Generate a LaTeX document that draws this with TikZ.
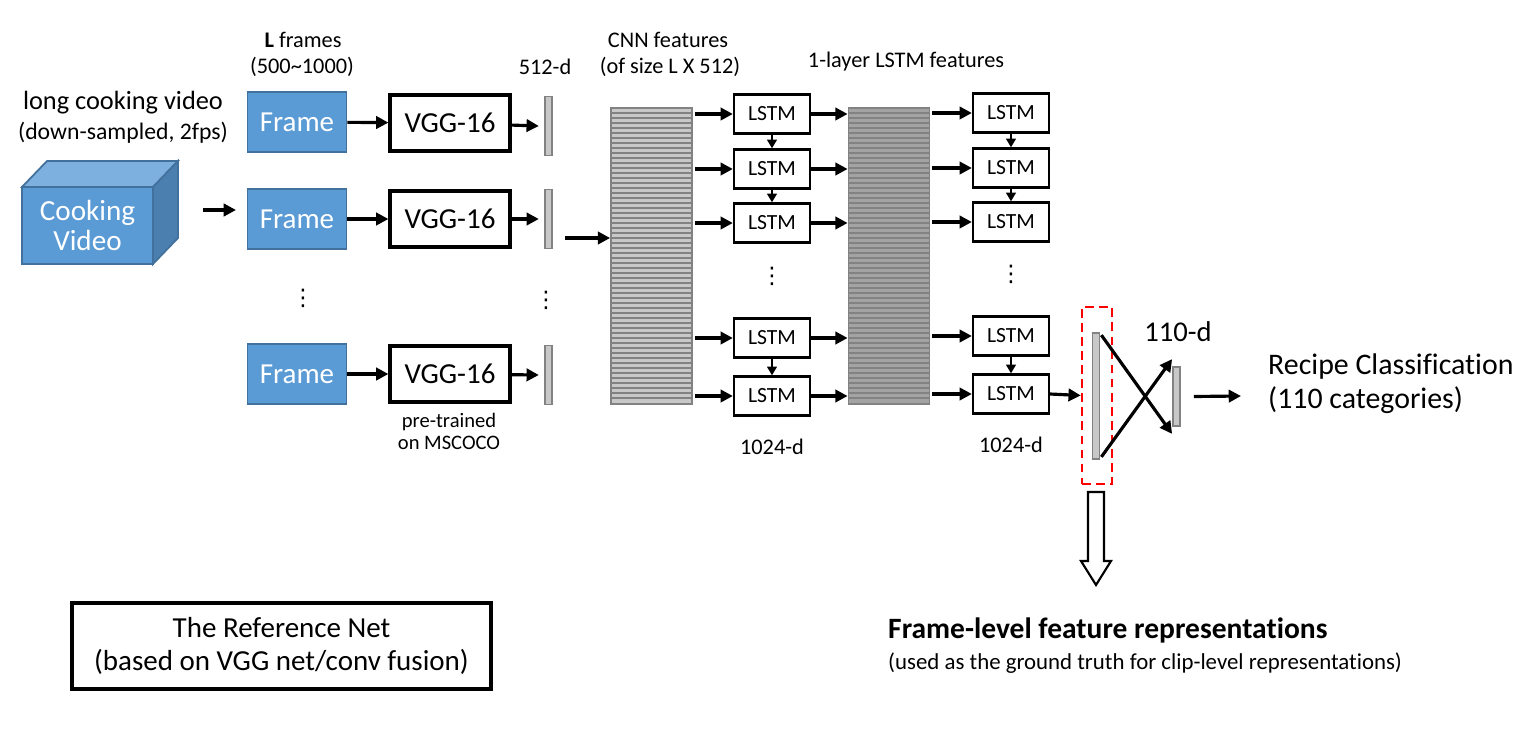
\documentclass[tikz,border=0pt]{standalone}
\usepackage{fontspec}
\setmainfont{Carlito}[Ligatures=NoCommon]
\newfontfamily\dotsfont{DejaVu Sans}
\usetikzlibrary{arrows.meta}

\definecolor{frameblue}{HTML}{5B9BD5}
\definecolor{frameedge}{HTML}{41719C}
\definecolor{cubetop}{HTML}{7DAFDF}
\definecolor{cubeside}{HTML}{4A7FB0}
\definecolor{barfill}{HTML}{C8C8C8}
\definecolor{bargray}{HTML}{828282}
\definecolor{lstmfill}{HTML}{A3A3A3}

\newcommand{\fs}[1]{\fontsize{#1}{1.15\dimexpr#1\relax}\selectfont}

\tikzset{
  framebox/.style={draw=frameedge, line width=1pt, fill=frameblue, text=white,
    minimum width=1.98cm, minimum height=1.2cm, font=\fs{16.5pt}},
  vggbox/.style={draw, line width=1.8pt, minimum width=2.4cm, minimum height=1.12cm,
    font=\fs{16.5pt}},
  lstmbox/.style={draw, line width=1.3pt, minimum width=1.52cm, minimum height=0.78cm,
    font=\fs{12.3pt}},
  featbar/.style={draw=bargray, line width=1pt, fill=barfill, minimum width=0.14cm,
    minimum height=1.18cm, inner sep=0pt},
  stack/.style={draw=bargray, line width=1pt, minimum width=1.62cm, minimum height=5.92cm,
    inner sep=0pt, path picture={
      \foreach \k in {1,...,58}
        \draw[bargray, line width=1.2pt]
          ([yshift=-\k*0.1cm]path picture bounding box.north west) --
          ([yshift=-\k*0.1cm]path picture bounding box.north east);}},
  lbl/.style={font=\fs{12.7pt}, align=center},
  arr/.style={-{Triangle[length=7pt,width=7pt]}, line width=1.8pt},
  sarr/.style={-{Triangle[length=5pt,width=5.5pt]}, line width=1.3pt},
  vdots/.style={font=\dotsfont\fs{13pt}}
}

\begin{document}
\begin{tikzpicture}[x=0.02cm, y=-0.02cm]
\useasboundingbox (0,0) rectangle (1528,730);

% cooking video cube
\fill[cubetop, draw=frameedge, line width=1pt] (22,187) -- (47,161) -- (178,161) -- (153,187) -- cycle;
\fill[cubeside, draw=frameedge, line width=1pt] (153,187) -- (178,161) -- (178,238) -- (153,264) -- cycle;
\node[framebox, minimum width=2.62cm, minimum height=1.54cm, align=center, font=\fs{16.6pt}] (video) at (87.5,225.5) {Cooking\\[-2pt]Video};
\node[font=\fs{15pt}] (videotxt) at (123,103) {long cooking video};
\node[font=\fs{13.5pt}] (videosub) at (123,133) {(down-sampled, 2fps)};
\coordinate (vout) at (203,210);
\coordinate (vin) at (236,210);
\draw[arr] (vout) -- (vin);

% frames
\node[lbl] (ltxt) at (303,40) {\textbf{L} frames};
\node[lbl] (lnum) at (302,67) {(500\textasciitilde1000)};
\node[framebox] (frame1) at (297,122) {Frame};
\node[framebox] (frame2) at (297,219) {Frame};
\node[framebox] (frame3) at (297,374) {Frame};
\node[vdots] (fdots) at (303,298) {⋮};

% vgg-16
\node[vggbox] (vgg1) at (450,123) {VGG-16};
\node[vggbox] (vgg2) at (450,219) {VGG-16};
\node[vggbox] (vgg3) at (450,374) {VGG-16};
\node[font=\fs{11.7pt}, align=center] (pretr) at (449,431) {pre-trained\\[-1pt]on MSCOCO};
\foreach \i in {1,2,3}
  \draw[arr] (frame\i) -- (vgg\i);

% 512-d features
\node[lbl] (dim512) at (545,67) {512-d};
\node[featbar] (bar1) at (548.5,126) {};
\node[featbar] (bar2) at (548.5,219) {};
\node[featbar] (bar3) at (548.5,375) {};
\node[vdots] (bdots) at (546,300) {⋮};
\foreach \i in {1,2,3}
  \draw[arr] (vgg\i) -- ([xshift=-3]bar\i.west);

% cnn features
\node[lbl] (cnntxt) at (668,40) {CNN features};
\node[lbl] (cnnsub) at (670,67) {(of size L X 512)};
\node[stack, fill=barfill] (cnn) at (651.5,256) {};
\coordinate (cin) at (565,238);
\draw[arr] (cin) -- (cin -| cnn.west);

% first lstm layer
\node[lstmbox] (la1) at (772,114) {LSTM};
\node[lstmbox] (la2) at (772,169) {LSTM};
\node[lstmbox] (la3) at (772,223) {LSTM};
\node[vdots] (ladots) at (772,276) {⋮};
\node[lstmbox] (la4) at (772,338) {LSTM};
\node[lstmbox] (la5) at (772,396) {LSTM};
\node[lbl] (dim1024a) at (772,447) {1024-d};
\foreach \i in {1,...,5}
  \draw[arr] (la\i.west -| cnn.east) ++(2,0) -- (la\i.west);
\draw[sarr] (la1) -- (la2);
\draw[sarr] (la2) -- (la3);
\draw[sarr] (la4) -- (la5);

% lstm features
\node[lbl] (lstmtxt) at (906,62) {1-layer LSTM features};
\node[stack, fill=lstmfill] (lstmf) at (889,256) {};
\foreach \i in {1,...,5}
  \draw[arr] (la\i.east) -- (la\i.east -| lstmf.west);

% second lstm layer
\node[lstmbox] (lb1) at (1011,113) {LSTM};
\node[lstmbox] (lb2) at (1011,168) {LSTM};
\node[lstmbox] (lb3) at (1011,222) {LSTM};
\node[vdots] (lbdots) at (1011,274) {⋮};
\node[lstmbox] (lb4) at (1011,336) {LSTM};
\node[lstmbox] (lb5) at (1011,394) {LSTM};
\node[lbl] (dim1024b) at (1011,445) {1024-d};
\foreach \i in {1,...,5}
  \draw[arr] (lb\i.west -| lstmf.east) ++(2,0) -- (lb\i.west);
\draw[sarr] (lb1) -- (lb2);
\draw[sarr] (lb2) -- (lb3);
\draw[sarr] (lb4) -- (lb5);

% classifier
\node[draw=red, dashed, dash pattern=on 5pt off 3pt, line width=1.4pt, minimum width=0.6cm,
  minimum height=3.54cm] (sel) at (1097,395.5) {};
\node[featbar, minimum height=2.52cm] (fc1) at (1096,396) {};
\node[featbar, minimum height=1.18cm] (fc2) at (1176.5,396.5) {};
\node[font=\fs{16.3pt}] (dim110) at (1178,332) {110-d};
\draw[arr] (lb5.east) -- (sel.west);
\draw[arr] (fc1.north east) ++(1,3) -- ([yshift=-4]fc2.south west);
\draw[arr] (fc1.south east) ++(1,-3) -- ([yshift=4]fc2.north west);
\coordinate (cout) at (1241,396);
\draw[arr] (fc2.east) ++(13,0) -- (cout);
\node[font=\fs{17pt}, align=left, anchor=west] (recipe) at (1262,384)
  {Recipe Classification\\(110 categories)};

% frame-level representations
\draw[line width=1.2pt, fill=white] (1088,492) -- (1104,492) -- (1104,561) -- (1111,561)
  -- (1096,585) -- (1081,561) -- (1088,561) -- cycle;
\node[font=\bfseries\fs{16.8pt}, anchor=west] (flf) at (882,630) {Frame-level feature representations};
\node[font=\fs{13pt}, anchor=west] (flfsub) at (882,663) {(used as the ground truth for clip-level representations)};

% reference net
\node[draw, line width=1.8pt, minimum width=8.38cm, minimum height=1.72cm, align=center,
  font=\fs{16.5pt}] (refnet) at (281.5,646) {The Reference Net\\(based on VGG net/conv fusion)};

\end{tikzpicture}
\end{document}
